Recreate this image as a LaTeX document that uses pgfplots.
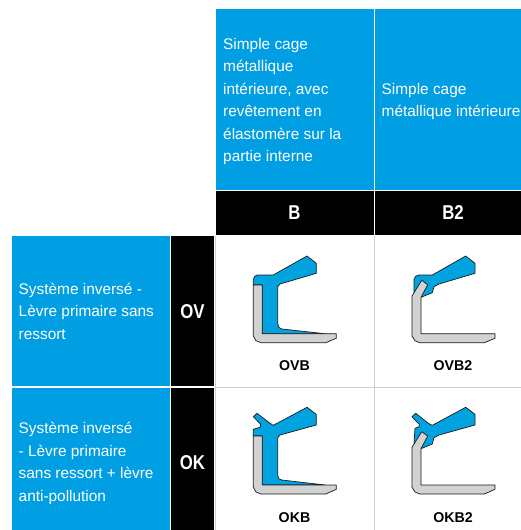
\documentclass[border=0pt]{standalone}
\usepackage{pgfplots}
\pgfplotsset{compat=1.18}
\usepackage{fontspec}
\setmainfont{Liberation Sans}
\definecolor{hb}{HTML}{009EE3}
\definecolor{sb}{HTML}{00A3E0}
\definecolor{gy}{HTML}{D1D2D1}
\definecolor{ln}{HTML}{CFCFCF}
\newcommand{\txt}[3]{\node[anchor=base west,text=white,inner sep=0pt,font=\fontsize{15.4}{18}\selectfont] at (axis cs:#1,#2) {#3};}
\newcommand{\hdg}[3]{\node[text=white,inner sep=0pt,xscale=0.84,font=\fontsize{20}{22}\selectfont\bfseries] at (axis cs:#1,#2) {#3};}
\newcommand{\lab}[3]{\node[text=black,inner sep=0pt,font=\fontsize{14.2}{16}\selectfont\bfseries] at (axis cs:#1,#2) {#3};}
\begin{document}
\begin{tikzpicture}
\useasboundingbox (0,0) rectangle (521pt,530pt);
\begin{axis}[at={(0,0)},anchor=south west,scale only axis,width=521pt,height=530pt,
  xmin=0,xmax=521,ymin=0,ymax=530,y dir=reverse,hide axis,clip=true,
  every axis plot/.append style={forget plot}]
% header and side cells
\addplot[fill=hb,draw=none] coordinates {(216,9)(373.5,9)(373.5,190)(216,190)} --cycle;
\addplot[fill=hb,draw=none] coordinates {(375,9)(521,9)(521,190)(375,190)} --cycle;
\addplot[fill=black,draw=none] coordinates {(216,191)(373.5,191)(373.5,235)(216,235)} --cycle;
\addplot[fill=black,draw=none] coordinates {(375,191)(521,191)(521,235)(375,235)} --cycle;
\addplot[fill=hb,draw=none] coordinates {(12,236)(169.5,236)(169.5,386)(12,386)} --cycle;
\addplot[fill=hb,draw=none] coordinates {(12,388)(169.5,388)(169.5,530)(12,530)} --cycle;
\addplot[fill=black,draw=none] coordinates {(171,236)(214,236)(214,386)(171,386)} --cycle;
\addplot[fill=black,draw=none] coordinates {(171,388)(214,388)(214,530)(171,530)} --cycle;
% grid lines
\addplot[ln,line width=1pt] coordinates {(374.3,236)(374.3,530)};
\addplot[ln,line width=1pt] coordinates {(215,387)(521,387)};
\addplot[ln,line width=0.6pt] coordinates {(215.2,236)(215.2,530)};
% OVB
\addplot[fill=sb,draw=black!90,line width=0.7pt,line join=round] coordinates {(253.3,285)(253.3,279.3)(254.7,276.3)(257.3,275)(273.3,275)(307,256)(316.3,263.3)(316.3,273.3)(280,284)(277.7,286.7)(277.7,323.3)(278.7,327.3)(281.7,329)(325,333.7)(262.3,333.7)(262.3,285)} --cycle;
\addplot[fill=gy,draw=black!90,line width=0.7pt,line join=round] coordinates {(253.3,285)(262.3,285)(262.3,333.7)(336.3,333.7)(336.3,338.3)(325.7,342.7)(261,342.7)(256,340.7)(253.3,336)} --cycle;
% OVB2
\addplot[fill=sb,draw=black!90,line width=0.7pt,line join=round] coordinates {(414,292.7)(414,279.3)(415.7,276.3)(418.7,275)(432.3,275)(465.7,256)(475,263.3)(475,273.3)(439,284)(434,286.7)(432.3,292.7)(421,297.3)} --cycle;
\addplot[fill=gy,draw=black!90,line width=0.7pt,line join=round] coordinates {(421.7,280.3)(427.7,284.7)(421,297.3)(421,333.7)(495,333.7)(495,338.3)(484.3,342.7)(419.7,342.7)(415,340.7)(412,336)(412,296)} --cycle;
% OKB
\addplot[fill=sb,draw=black!90,line width=0.7pt,line join=round] coordinates {(253.3,436)(253.3,429.3)(260,427.3)(260.7,424.3)(253.3,416.7)(257,413.3)(270,423.3)(273.3,425.3)(307,407.3)(316.3,414.3)(316.3,425)(280,435)(277.7,437.7)(277.7,475)(278.7,478.7)(281.7,480)(325,485)(262.3,485)(262.3,436)} --cycle;
\addplot[fill=gy,draw=black!90,line width=0.7pt,line join=round] coordinates {(253.3,436)(262.3,436)(262.3,485)(336.3,485)(336.3,489.3)(325.7,494)(261,494)(256,492)(253.3,487.3)} --cycle;
% OKB2
\addplot[fill=sb,draw=black!90,line width=0.7pt,line join=round] coordinates {(414,443.3)(415,428.3)(419,426.7)(419.3,424.3)(412,416.7)(415.7,413.3)(428.3,423.3)(432.3,425.3)(465.7,407.3)(475,414.3)(475,425)(439,435)(434,437.7)(432.3,444)(421,448.7)} --cycle;
\addplot[fill=gy,draw=black!90,line width=0.7pt,line join=round] coordinates {(421.7,431.7)(427.7,436)(421,448.7)(421,485)(495,485)(495,489.3)(484.3,494)(419.7,494)(415,492)(412,487.3)(412,447.3)} --cycle;
% text
\txt{223}{49.5}{Simple cage}
\txt{223}{71.9}{métallique}
\txt{223}{94.3}{intérieure, avec}
\txt{223}{116.7}{revêtement en}
\txt{223}{139.1}{élastomère sur la}
\txt{223}{161.5}{partie interne}
\txt{381.5}{94.3}{Simple cage}
\txt{381.5}{116.7}{métallique intérieure}
\txt{18.5}{294.5}{Système inversé -}
\txt{18.5}{316.8}{Lèvre primaire sans}
\txt{18.5}{339}{ressort}
\txt{18.5}{433.8}{Système inversé}
\txt{18.5}{456.2}{- Lèvre primaire}
\txt{18.5}{478.6}{sans ressort + lèvre}
\txt{18.5}{501}{anti-pollution}
\hdg{294.5}{213}{B}
\hdg{453}{213}{B2}
\hdg{192.5}{312}{OV}
\hdg{192.5}{462.5}{OK}
\lab{294.5}{366}{OVB}
\lab{453}{366}{OVB2}
\lab{294.5}{517.5}{OKB}
\lab{453}{517.5}{OKB2}
\end{axis}
\end{tikzpicture}
\end{document}
